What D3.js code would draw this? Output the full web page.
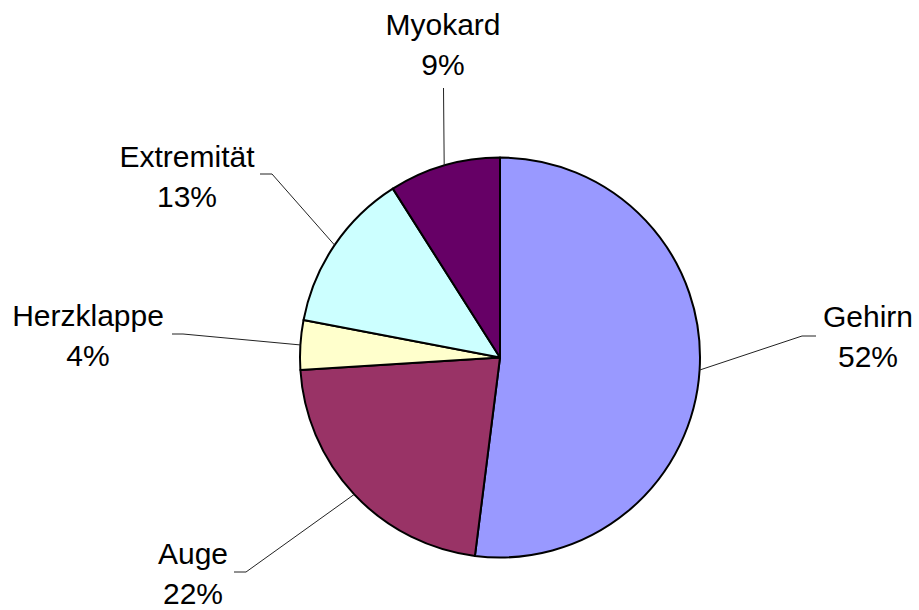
<!DOCTYPE html>
<html>
<head>
<meta charset="utf-8">
<script src="https://cdn.jsdelivr.net/npm/d3@7"></script>
<style>
  html, body { margin: 0; padding: 0; background: #fff; }
  svg { display: block; }
</style>
</head>
<body>
<div id="chart"></div>
<script>
// data
const categories = ["Gehirn", "Auge", "Herzklappe", "Extremität", "Myokard"];
const values = [52, 22, 4, 13, 9];
const colors = ["#9999FF", "#993366", "#FFFFCC", "#CCFFFF", "#660066"];

// label layout: elbow point of leader line (relative to pie centre), end of short stub, label centre
const labelLayout = [
  { elbow: [302, -21.5], end: [316, -21.5], text: [868, 327] },
  { elbow: [-254, 214.5], end: [-266, 214.5], text: [193, 564] },
  { elbow: [-317, -23.5], end: [-328, -23.5], text: [88, 326] },
  { elbow: [-228, -183.5], end: [-240, -183.5], text: [187, 167] },
  { elbow: [-56.5, -269.5], end: [-56.5, -269.5], text: [443, 35] }
];

const width = 919, height = 610;
const cx = 500, cy = 357.5, radius = 200;

const svg = d3.select("#chart").append("svg")
  .attr("width", width)
  .attr("height", height);

const g = svg.append("g")
  .attr("transform", "translate(" + cx + "," + cy + ")");

const pie = d3.pie().sort(null).value(d => d)(values);
const arc = d3.arc().innerRadius(0).outerRadius(radius);

g.selectAll("path.slice")
  .data(pie)
  .enter().append("path")
  .attr("class", "slice")
  .attr("d", arc)
  .attr("fill", (d, i) => colors[i])
  .attr("stroke", "#000")
  .attr("stroke-width", 2)
  .attr("stroke-linejoin", "round");

// leader lines
g.selectAll("polyline.leader")
  .data(pie)
  .enter().append("polyline")
  .attr("class", "leader")
  .attr("fill", "none")
  .attr("stroke", "#222")
  .attr("stroke-width", 1)
  .attr("points", (d, i) => {
    const a = (d.startAngle + d.endAngle) / 2;
    const p0 = [radius * Math.sin(a), -radius * Math.cos(a)];
    const L = labelLayout[i];
    return [p0, L.elbow, L.end].map(p => p.join(",")).join(" ");
  });

// labels
const total = d3.sum(values);
const labels = svg.selectAll("text.lbl")
  .data(pie)
  .enter().append("text")
  .attr("class", "lbl")
  .attr("text-anchor", "middle")
  .attr("font-family", "'Liberation Sans', Arial, sans-serif")
  .attr("font-size", 30)
  .attr("fill", "#000");

labels.append("tspan")
  .attr("x", (d, i) => labelLayout[i].text[0])
  .attr("y", (d, i) => labelLayout[i].text[1])
  .text((d, i) => categories[i]);

labels.append("tspan")
  .attr("x", (d, i) => labelLayout[i].text[0])
  .attr("dy", 40)
  .text(d => Math.round(d.value / total * 100) + "%");
</script>
</body>
</html>
